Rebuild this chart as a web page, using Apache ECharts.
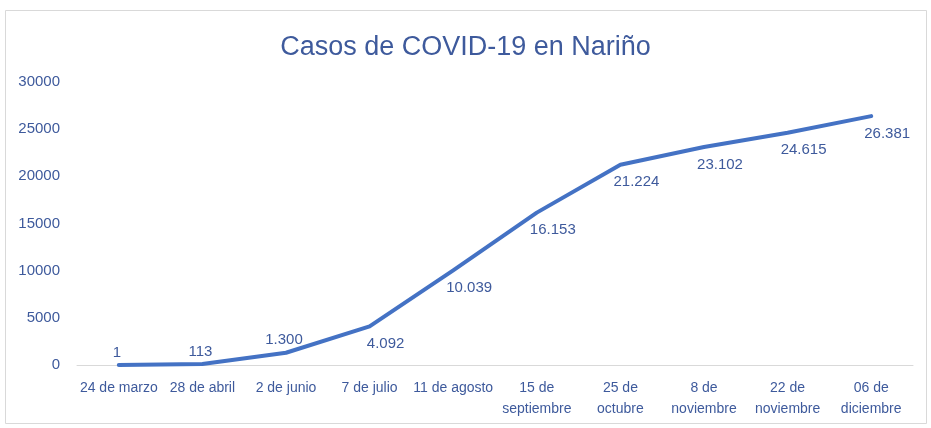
<!DOCTYPE html>
<html>
<head>
<meta charset="utf-8">
<script src="https://cdn.jsdelivr.net/npm/echarts@6/dist/echarts.min.js"></script>
<style>
  html, body { margin: 0; padding: 0; background: #ffffff; }
  #chart { width: 931px; height: 428px; }
</style>
</head>
<body>
<div id="chart"></div>
<script>
// fechas de corte y casos acumulados
const fechas = [
  '24 de marzo', '28 de abril', '2 de junio', '7 de julio', '11 de agosto',
  '15 de\nseptiembre', '25 de\noctubre', '8 de\nnoviembre', '22 de\nnoviembre', '06 de\ndiciembre'
];
const casos = [1, 113, 1300, 4092, 10039, 16153, 21224, 23102, 24615, 26381];
const yMax = 30000;
const yStep = 5000;

const textColor = '#3E5A9C';
const lineColor = '#4472C4';

// miles con punto, como en el original
function formatMiles(v) {
  return String(v).replace(/\B(?=(\d{3})+(?!\d))/g, '.');
}

const chart = echarts.init(document.getElementById('chart'), null, { renderer: 'canvas' });

chart.setOption({
  backgroundColor: '#ffffff',
  animation: false,
  textStyle: { fontFamily: 'Liberation Sans' },
  title: {
    text: 'Casos de COVID-19 en Nariño',
    left: 'center',
    top: 29,
    textStyle: {
      color: textColor,
      fontSize: 27,
      fontWeight: 'normal',
      fontFamily: 'Liberation Sans'
    }
  },
  graphic: [{
    type: 'rect',
    shape: { x: 5.5, y: 10.5, width: 921, height: 413 },
    style: { fill: 'none', stroke: '#D9D9D9', lineWidth: 1 },
    silent: true
  }],
  grid: { left: 77, right: 18, top: 82, bottom: 63 },
  xAxis: {
    type: 'category',
    data: fechas,
    boundaryGap: true,
    axisLine: { lineStyle: { color: '#D9D9D9', width: 1 } },
    axisTick: { show: false },
    axisLabel: {
      color: textColor,
      fontSize: 14,
      lineHeight: 21,
      interval: 0,
      margin: 13
    }
  },
  yAxis: {
    type: 'value',
    min: 0,
    max: yMax,
    interval: yStep,
    axisLine: { show: false },
    axisTick: { show: false },
    splitLine: { show: false },
    axisLabel: {
      color: textColor,
      fontSize: 15,
      margin: 17,
      formatter: v => String(v)
    }
  },
  series: [{
    type: 'line',
    data: casos.map((v, i) => ({
      value: v,
      label: i < 3
        ? { position: 'top', offset: [-2, 0] }
        : { position: 'bottom', offset: [16, 5] }
    })),
    showSymbol: true,
    symbol: 'circle',
    symbolSize: 0,
    itemStyle: { color: lineColor },
    lineStyle: { color: lineColor, width: 4, cap: 'round', join: 'round' },
    label: {
      show: true,
      color: textColor,
      fontSize: 15,
      formatter: p => formatMiles(p.value)
    }
  }]
});
</script>
</body>
</html>
